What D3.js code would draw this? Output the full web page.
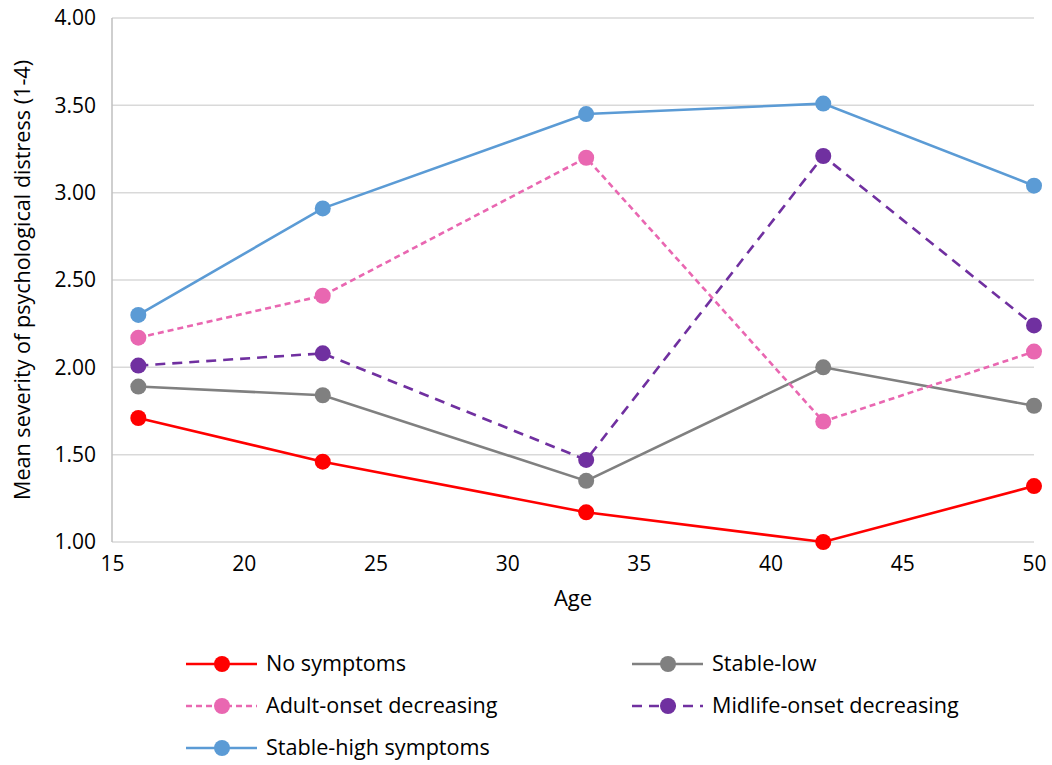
<!DOCTYPE html>
<html><head><meta charset="utf-8">
<script src="https://cdn.jsdelivr.net/npm/d3@7"></script>
<style>body{margin:0;background:#fff}svg{display:block}text{font-family:"Open Sans",sans-serif;fill:#000}</style>
</head><body><svg id="c" width="1052" height="765"></svg>
<script>
const ages = [16, 23, 33, 42, 50];
const xTicks = [15, 20, 25, 30, 35, 40, 45, 50];
const yTicks = [1.0, 1.5, 2.0, 2.5, 3.0, 3.5, 4.0];
const seriesNames = ["No symptoms", "Stable-low", "Adult-onset decreasing", "Midlife-onset decreasing", "Stable-high symptoms"];
const noSymptoms = [1.71, 1.46, 1.17, 1.00, 1.32];
const stableLow = [1.89, 1.84, 1.35, 2.00, 1.78];
const adultOnset = [2.17, 2.41, 3.20, 1.69, 2.09];
const midlifeOnset = [2.01, 2.08, 1.47, 3.21, 2.24];
const stableHigh = [2.30, 2.91, 3.45, 3.51, 3.04];
const seriesValues = [noSymptoms, stableLow, adultOnset, midlifeOnset, stableHigh];
const colors = ["#FF0000", "#808080", "#E967B1", "#7030A0", "#5B9BD5"];
const dashes = [null, null, "6,4", "10,7", null];

const svg = d3.select("#c");
const x = d3.scaleLinear().domain([15, 50]).range([112, 1034]);
const y = d3.scaleLinear().domain([1, 4]).range([542, 18]);

svg.append("g").selectAll("line").data(yTicks).join("line")
  .attr("x1", 112).attr("x2", 1034).attr("y1", d => y(d)).attr("y2", d => y(d))
  .attr("stroke", "#D9D9D9").attr("stroke-width", 1.5);
svg.append("line").attr("x1", 112).attr("x2", 112).attr("y1", 18).attr("y2", 542)
  .attr("stroke", "#BFBFBF").attr("stroke-width", 1.5);

const yAxis = d3.axisLeft(y).tickValues(yTicks).tickFormat(d3.format(".2f")).tickSize(0).tickPadding(16);
const gy = svg.append("g").attr("transform", "translate(112,0)").call(yAxis);
gy.select(".domain").remove();
gy.selectAll("text").style("font-size", "21px").style("font-family", "Open Sans");

const xAxis = d3.axisBottom(x).tickValues(xTicks).tickSize(0).tickPadding(14);
const gx = svg.append("g").attr("transform", "translate(0,542)").call(xAxis);
gx.select(".domain").remove();
gx.selectAll("text").style("font-size", "21px").style("font-family", "Open Sans");

svg.append("text").attr("x", 573).attr("y", 606).attr("text-anchor", "middle")
  .style("font-size", "22px").text("Age");
svg.append("text").attr("transform", "translate(30,280) rotate(-90)").attr("text-anchor", "middle")
  .style("font-size", "21.6px").text("Mean severity of psychological distress (1-4)");

const line = d3.line().x((d, i) => x(ages[i])).y(d => y(d));
seriesValues.forEach((vals, k) => {
  svg.append("path").datum(vals).attr("d", line).attr("fill", "none")
    .attr("stroke", colors[k]).attr("stroke-width", 2.6)
    .attr("stroke-dasharray", dashes[k]);
});
seriesValues.forEach((vals, k) => {
  svg.append("g").selectAll("circle").data(vals).join("circle")
    .attr("cx", (d, i) => x(ages[i])).attr("cy", d => y(d)).attr("r", 8)
    .attr("fill", colors[k]);
});

const legPos = [[186, 664], [632, 664], [186, 706], [632, 706], [186, 748]];
seriesNames.forEach((name, k) => {
  const [lx, ly] = legPos[k];
  const g = svg.append("g");
  g.append("line").attr("x1", lx).attr("x2", lx + 71).attr("y1", ly).attr("y2", ly)
    .attr("stroke", colors[k]).attr("stroke-width", 2.6).attr("stroke-dasharray", dashes[k]);
  g.append("circle").attr("cx", lx + 36).attr("cy", ly).attr("r", 8).attr("fill", colors[k]);
  g.append("text").attr("x", lx + 80).attr("y", ly + 7).style("font-size", "21.6px").text(name);
});
</script></body></html>
